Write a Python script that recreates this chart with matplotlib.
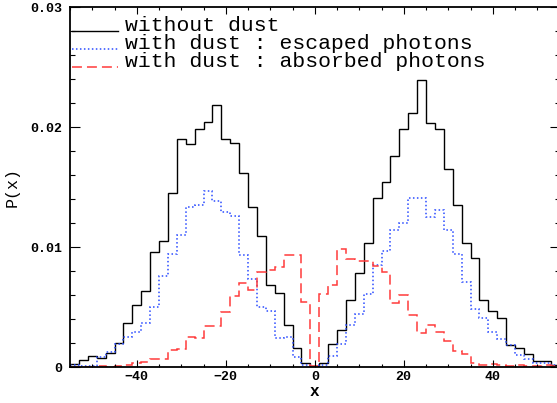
import numpy as np
import matplotlib
matplotlib.use("Agg")
import matplotlib.pyplot as plt
from matplotlib.lines import Line2D
from matplotlib.ticker import MultipleLocator

# ---- data (histograms, bin width 2, bins centred on even x) ----
bin_centers = np.arange(-54, 55, 2)

no_dust = [0.00025, 0.00058, 0.00095, 0.00072, 0.00115, 0.0020, 0.00364, 0.0052, 0.0063, 0.0096,
           0.0105, 0.0145, 0.0190, 0.0186, 0.0198, 0.0204, 0.0218, 0.0190, 0.0187, 0.0162,
           0.0133, 0.0109, 0.0068, 0.0062, 0.0035, 0.0016, 0.0003, 0.0001, 0.0003, 0.0019,
           0.0031, 0.0056, 0.0078, 0.0103, 0.0141, 0.0154, 0.0176, 0.0198, 0.0212, 0.0239,
           0.0203, 0.0198, 0.0165, 0.0135, 0.0103, 0.0091, 0.0056, 0.0047, 0.0041, 0.0018,
           0.0016, 0.0011, 0.00047, 0.00053, 0.0002]

escaped = [0.0002, 0.0001, 0.0001, 0.00086, 0.00128, 0.0019, 0.0025, 0.0029, 0.0037, 0.0050,
           0.0076, 0.0094, 0.0110, 0.0133, 0.0135, 0.0147, 0.0138, 0.0129, 0.0126, 0.0093,
           0.0073, 0.0050, 0.0047, 0.0024, 0.0025, 0.0008, 0.0002, 0.0, 0.0002, 0.0009,
           0.0019, 0.0035, 0.0044, 0.0061, 0.0085, 0.0097, 0.0114, 0.0120, 0.0141, 0.0141,
           0.0125, 0.0131, 0.0114, 0.0094, 0.0071, 0.0048, 0.0041, 0.0029, 0.0023, 0.0018,
           0.0010, 0.0007, 0.0003, 0.00036, 0.00017]

absorbed = [0.0, 0.0, 0.0, 0.0001, 0.0, 0.0001, 0.0002, 0.0003, 0.00044, 0.0007,
            0.00064, 0.0014, 0.0015, 0.0025, 0.0024, 0.0034, 0.0034, 0.0046, 0.0059, 0.0070,
            0.0064, 0.0079, 0.0081, 0.0083, 0.0093, 0.0093, 0.0054, 0.00005, 0.0061, 0.0068,
            0.0098, 0.0090, 0.0088, 0.0088, 0.0084, 0.0079, 0.0053, 0.0060, 0.0043, 0.0028,
            0.0035, 0.0029, 0.0022, 0.0013, 0.0011, 0.00036, 0.00017, 0.00025, 0.00017, 0.0001,
            0.00017, 0.0001, 0.0001, 0.00015, 0.0001]

labels = ["without dust", "with dust : escaped photons", "with dust : absorbed photons"]
x_ticks = [-40, -20, 0, 20, 40]
x_ticklabels = ["\u221240", "\u221220", "0", "20", "40"]
y_ticks = [0, 0.01, 0.02, 0.03]
y_ticklabels = ["0", "0.01", "0.02", "0.03"]

# ---- figure ----
W, H = 557, 403
fig = plt.figure(figsize=(W / 100, H / 100), dpi=100)
ax = fig.add_axes([70 / W, 36 / H, 489.5 / W, 360 / H])

edges = np.append(bin_centers - 1, bin_centers[-1] + 1)
mono = "Liberation Mono"

styles = [
    dict(color="black", lw=1.0, linestyle="-"),
    dict(color="#2a4bff", lw=1.1, linestyle=(0, (1, 1.6))),
    dict(color="#ff3b3b", lw=1.1, linestyle=(0, (6.5, 3.3))),
]
for vals, st in zip([no_dust, escaped, absorbed], styles):
    ax.stairs(vals, edges, baseline=None, **st)

ax.set_xlim(-55, 55)
ax.set_ylim(0, 0.03)

ax.set_xticks(x_ticks)
ax.set_xticklabels(x_ticklabels)
ax.set_yticks(y_ticks)
ax.set_yticklabels(y_ticklabels)
ax.xaxis.set_minor_locator(MultipleLocator(5))
ax.yaxis.set_minor_locator(MultipleLocator(0.002))

ax.tick_params(axis="both", which="both", direction="in", top=True, right=True, width=0.8)
ax.tick_params(axis="x", which="major", length=4.7, pad=3.0)
ax.tick_params(axis="x", which="minor", length=2.5)
ax.tick_params(axis="y", which="major", length=7.2, pad=5.8)
ax.tick_params(axis="y", which="minor", length=3.6)
for lab in ax.get_xticklabels() + ax.get_yticklabels():
    lab.set_fontfamily(mono)
    lab.set_fontweight("bold")
    lab.set_fontsize(9.5)

for sp in ax.spines.values():
    sp.set_linewidth(1.3)

# axis labels
fig.text(12 / W, 1 - 187 / H, "P(x)", rotation=90, ha="center", va="center",
         fontsize=12, family=mono)
fig.text(314 / W, 1 - 392 / H, "x", ha="center", va="center", fontsize=11.5,
         family=mono, fontweight="bold")

# legend (manual)
rows_y = [1 - (31 - 7) / 360, 1 - (49 - 7) / 360, 1 - (67 - 7) / 360]
for yy, lab, st in zip(rows_y, labels, styles):
    ax.add_line(Line2D([0.004, 0.098], [yy, yy], transform=ax.transAxes, **st))
    ax.text(0.112, yy, lab, transform=ax.transAxes, ha="left", va="baseline",
            fontsize=15.4, family=mono)

fig.savefig("out.png", dpi=100)
